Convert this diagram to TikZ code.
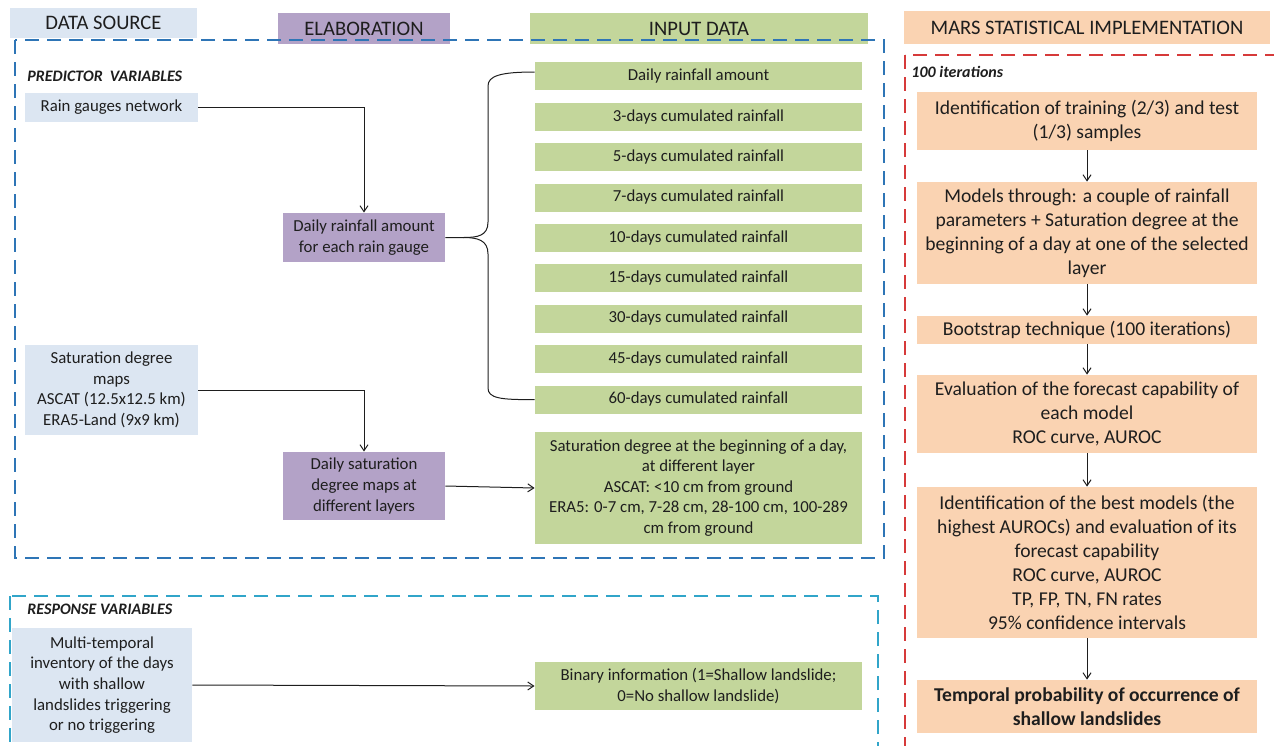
\documentclass[tikz,border=0pt]{standalone}
\usepackage{fontspec}
\setmainfont{Carlito}
\usetikzlibrary{arrows.meta,calc}
\definecolor{srcblue}{HTML}{DCE6F2}
\definecolor{elab}{HTML}{B3A2C7}
\definecolor{inp}{HTML}{C3D69B}
\definecolor{mars}{HTML}{FAD3B2}
\definecolor{dblue}{HTML}{2E75B6}
\definecolor{dcyan}{HTML}{31A5C9}
\definecolor{dred}{HTML}{D63A3A}
\definecolor{txt}{HTML}{1E1E1E}
\newcommand\fsL{\fontsize{8.4}{10.3}\selectfont}
\newcommand\fsR{\fontsize{9.8}{12}\selectfont}
\newcommand\fsH{\fontsize{10.3}{12}\selectfont}
\newcommand\fsI{\fontsize{8}{10}\selectfont\bfseries\itshape}
\tikzset{
  box/.style 2 args={minimum width=#1*0.5pt, minimum height=#2*0.5pt, inner sep=0pt, align=center, text=txt},
  srcbox/.style={fill=srcblue, font=\fsL},
  elabbox/.style={fill=elab, font=\fsL},
  inbox/.style={fill=inp, font=\fsL},
  marsbox/.style={fill=mars, font=\fsR},
  headbox/.style={font=\fsH},
  dashbox/.style={line width=1pt, dash pattern=on 7pt off 4pt},
  arr/.style={-{Straight Barb[length=3pt,width=4pt]}, line width=0.5pt, draw=txt},
  conn/.style={line width=0.5pt, draw=txt},
  lab/.style={anchor=west, font=\fsI, text=txt, inner sep=0pt}
}
\begin{document}
\begin{tikzpicture}[x=0.5pt,y=-0.5pt]
\useasboundingbox (0,0) rectangle (1274,745);
\clip (0,0) rectangle (1274,745);

% headers
\node[box={187}{30}, fill=srcblue, headbox] (hds) at (103.5,23) {DATA SOURCE};
\node[box={172}{31}, fill=elab, headbox] (hel) at (364,28.5) {ELABORATION};
\node[box={338}{31}, fill=inp, headbox] (hin) at (699,28.5) {INPUT DATA};
\node[box={366}{33}, fill=mars, headbox] (hmars) at (1087,27.5) {MARS STATISTICAL IMPLEMENTATION};

% dashed containers
\draw[dashbox, dblue] (15,40) rectangle (884,558);
\draw[dashbox, dcyan] (10,596) rectangle (878,770);
\draw[dashbox, dred] (905,55) rectangle (1290,770);

\node[lab] (lpred) at (27,76) {PREDICTOR\ \ VARIABLES};
\node[lab] (lresp) at (27,609) {RESPONSE VARIABLES};
\node[lab] (liter) at (911,72) {100 iterations};

% data source
\node[box={173}{29}, srcbox] (rg) at (111.5,107.5) {Rain gauges network};
\node[box={173}{90}, srcbox] (sdm) at (111.5,390) {Saturation degree\\maps\\ASCAT (12.5x12.5 km)\\ERA5-Land (9x9 km)};
\node[box={180}{114}, srcbox] (mt) at (102,685) {Multi-temporal\\inventory of the days\\with shallow\\landslides triggering\\or no triggering};

% elaboration
\node[box={162}{49}, elabbox] (dra) at (364,237.5) {Daily rainfall amount\\for each rain gauge};
\node[box={162}{68}, elabbox] (dsd) at (364,486) {Daily saturation\\degree maps at\\different layers};

% input data
\node[box={327}{28}, inbox] (g1) at (698.5,76) {Daily rainfall amount};
\node[box={327}{28}, inbox] (g2) at (698.5,117) {3-days cumulated rainfall};
\node[box={327}{28}, inbox] (g3) at (698.5,157) {5-days cumulated rainfall};
\node[box={327}{28}, inbox] (g4) at (698.5,197.5) {7-days cumulated rainfall};
\node[box={327}{28}, inbox] (g5) at (698.5,238) {10-days cumulated rainfall};
\node[box={327}{28}, inbox] (g6) at (698.5,278) {15-days cumulated rainfall};
\node[box={327}{28}, inbox] (g7) at (698.5,318.5) {30-days cumulated rainfall};
\node[box={327}{28}, inbox] (g8) at (698.5,359) {45-days cumulated rainfall};
\node[box={327}{28}, inbox] (g9) at (698.5,399.5) {60-days cumulated rainfall};
\node[box={327}{112}, inbox] (sat) at (698.5,488) {Saturation degree at the beginning of a day,\\at different layer\\ASCAT: {<}10 cm from ground\\ERA5: 0-7 cm, 7-28 cm, 28-100 cm, 100-289\\cm from ground};
\node[box={327}{48}, inbox] (bin) at (698.5,686) {Binary information (1=Shallow landslide;\\0=No shallow landslide)};

% MARS column
\node[box={340}{58}, marsbox] (o1) at (1087,121) {Identification of training (2/3) and test\\(1/3) samples};
\node[box={340}{102}, marsbox] (o2) at (1087,233) {Models through: a couple of rainfall\\parameters + Saturation degree at the\\beginning of a day at one of the selected\\layer};
\node[box={340}{28}, marsbox] (o3) at (1087,330) {Bootstrap technique (100 iterations)};
\node[box={340}{78}, marsbox] (o4) at (1087,414) {Evaluation of the forecast capability of\\each model\\ROC curve, AUROC};
\node[box={340}{151}, marsbox] (o5) at (1087,562.5) {Identification of the best models (the\\highest AUROCs) and evaluation of its\\forecast capability\\ROC curve, AUROC\\TP, FP, TN, FN rates\\95\% confidence intervals};
\node[box={340}{53}, marsbox, font=\fsR\bfseries] (o6) at (1087,706.5) {Temporal probability of occurrence of\\shallow landslides};

% connectors
\draw[arr] (rg.east) -| (dra.north);
\draw[arr] (sdm.east) -| (dsd.north);
\draw[arr] (dsd.east) -- (sat.west);
\draw[arr] (mt.east) -- (bin.west);

% brace
\draw[conn] (dra.east) -- ++(18,0) .. controls ++(14,0) and (488,236) .. (488,222) -- (488,86) .. controls (488,76) and (500,72) .. ($(g1.west)+(0,-4)$);
\draw[conn] ($(dra.east)+(18,0)$) .. controls ++(14,0) and (488,240) .. (488,254) -- (488,388) .. controls (488,398) and (500,400) .. (g9.west);

\draw[arr] (o1) -- (o2);
\draw[arr] (o2) -- (o3);
\draw[arr] (o3) -- (o4);
\draw[arr] (o4) -- (o5);
\draw[arr] (o5) -- (o6);
\end{tikzpicture}
\end{document}
